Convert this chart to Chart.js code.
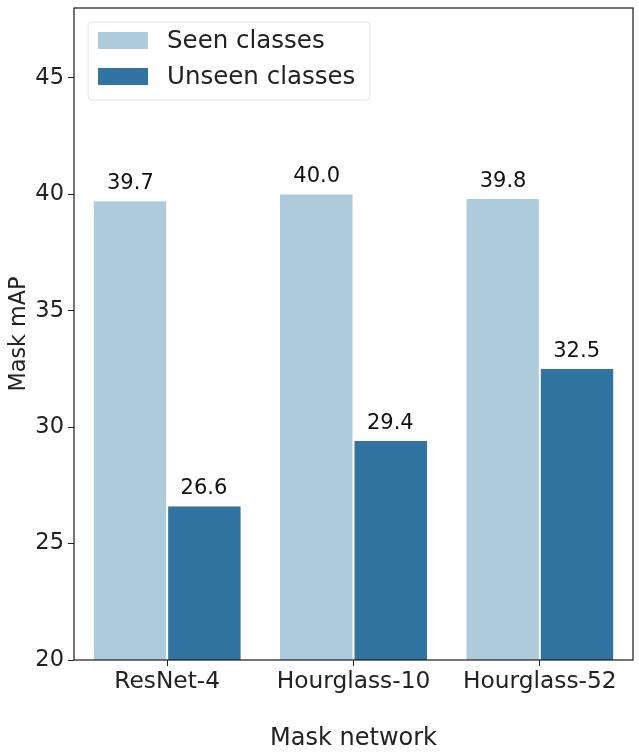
<!DOCTYPE html>
<html>
<head>
<meta charset="utf-8">
<script src="https://cdn.jsdelivr.net/npm/chart.js@4.4.1/dist/chart.umd.min.js"></script>
<style>
html,body{margin:0;padding:0;background:#fff;}
#wrap{width:639px;height:753px;position:relative;}
</style>
</head>
<body>
<div id="wrap"><canvas id="c" width="639" height="753"></canvas></div>
<script>
const categories = ["ResNet-4", "Hourglass-10", "Hourglass-52"];
const seenValues = [39.7, 40.0, 39.8];
const unseenValues = [26.6, 29.4, 32.5];
const seriesNames = ["Seen classes", "Unseen classes"];
const yTicks = [20, 25, 30, 35, 40, 45];

const FONT = "'DejaVu Sans', sans-serif";
const seenColor = "#aecbdc";
const unseenColor = "#3274a1";

const framePlugin = {
  id: "frame",
  afterDraw(chart) {
    const {ctx, chartArea: a} = chart;
    ctx.save();
    ctx.strokeStyle = "#1a1a1a";
    ctx.lineWidth = 1.2;
    ctx.strokeRect(a.left, a.top, a.right - a.left, a.bottom - a.top);
    ctx.restore();
  }
};

const labelPlugin = {
  id: "vlabels",
  afterDatasetsDraw(chart) {
    const ctx = chart.ctx;
    ctx.save();
    ctx.font = "21px " + FONT;
    ctx.fillStyle = "#111";
    ctx.textAlign = "center";
    ctx.textBaseline = "alphabetic";
    chart.data.datasets.forEach((ds, i) => {
      chart.getDatasetMeta(i).data.forEach((bar, j) => {
        ctx.fillText(ds.data[j].toFixed(1), bar.x, bar.y - 12);
      });
    });
    ctx.restore();
  }
};

const legendPlugin = {
  id: "inlegend",
  afterDraw(chart) {
    const ctx = chart.ctx;
    const a = chart.chartArea;
    const x0 = a.left + 14, y0 = a.top + 14, w = 282, h = 78;
    ctx.save();
    ctx.fillStyle = "rgba(255,255,255,0.85)";
    ctx.strokeStyle = "#e4e4e4";
    ctx.lineWidth = 1;
    ctx.beginPath();
    ctx.roundRect(x0, y0, w, h, 4);
    ctx.fill();
    ctx.stroke();
    ctx.font = "24.5px " + FONT;
    ctx.textBaseline = "middle";
    chart.data.datasets.forEach((ds, i) => {
      const cy = y0 + 19 + i * 36;
      ctx.fillStyle = ds.backgroundColor;
      ctx.fillRect(x0 + 10, cy - 9, 50, 17);
      ctx.fillStyle = "#222";
      ctx.fillText(ds.label, x0 + 79, cy + 1);
    });
    ctx.restore();
  }
};

new Chart(document.getElementById("c"), {
  type: "bar",
  data: {
    labels: categories,
    datasets: [
      {label: seriesNames[0], data: seenValues, backgroundColor: seenColor, borderColor: "#ffffff", borderWidth: {right: 1}, borderSkipped: false},
      {label: seriesNames[1], data: unseenValues, backgroundColor: unseenColor, borderColor: "#ffffff", borderWidth: {left: 1}, borderSkipped: false}
    ]
  },
  options: {
    responsive: false,
    animation: false,
    devicePixelRatio: 1,
    layout: {padding: {top: 8, right: 6, left: 0, bottom: 0}},
    datasets: {bar: {barPercentage: 1.0, categoryPercentage: 0.79}},
    plugins: {legend: {display: false}, tooltip: {enabled: false}},
    scales: {
      x: {
        grid: {display: true, drawOnChartArea: false, offset: false, tickLength: 6, color: "#222"},
        border: {display: false},
        ticks: {color: "#222", font: {family: FONT, size: 23.3}, padding: 2},
        title: {display: true, text: "Mask network", color: "#222", font: {family: FONT, size: 24}, padding: {top: 7, bottom: 0}},
        afterFit(s) { s.height = 93; s.paddingLeft = 0; s.paddingRight = 0; }
      },
      y: {
        min: 20, max: 48,
        afterBuildTicks(s) { s.ticks = yTicks.map(v => ({value: v})); },
        grid: {display: true, drawOnChartArea: false, tickLength: 6, color: "#222"},
        border: {display: false},
        ticks: {color: "#222", font: {family: FONT, size: 22.5}, padding: 4},
        title: {display: true, text: "Mask mAP", color: "#222", font: {family: FONT, size: 22.3}, padding: {top: 6, bottom: 0}},
        afterFit(s) { s.width = 74; s.paddingTop = 0; s.paddingBottom = 0; }
      }
    }
  },
  plugins: [framePlugin, labelPlugin, legendPlugin]
});
</script>
</body>
</html>
